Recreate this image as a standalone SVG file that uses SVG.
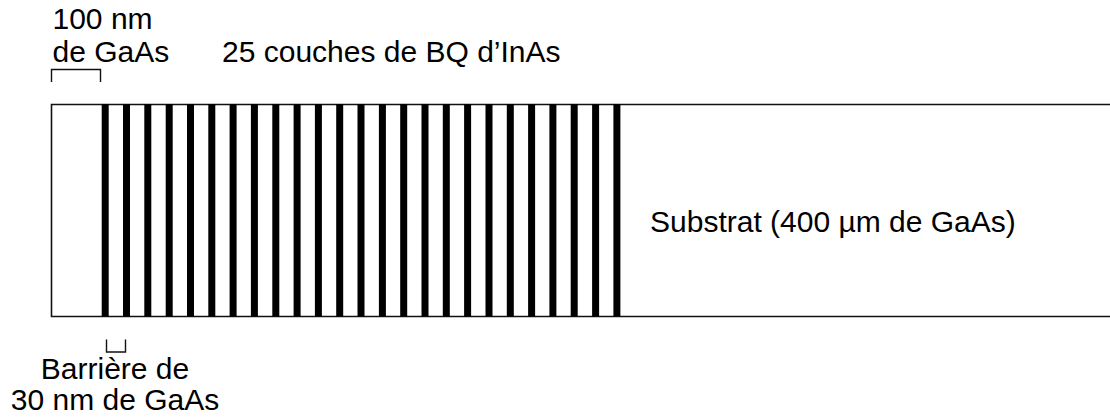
<svg xmlns="http://www.w3.org/2000/svg" width="1110" height="417" viewBox="0 0 1110 417">
  <style>
    text { font-family: "Liberation Sans", Arial, sans-serif; font-size: 30px; fill: #000; }
    .edge { fill: none; stroke: #111; stroke-width: 1.6; }
    .bracket { fill: none; stroke: #111; stroke-width: 1.4; }
    .qd { fill: #000; }
  </style>
  <rect width="1110" height="417" fill="#fff"/>

  <!-- Sample: 100 nm cap, 25 InAs QD layers, substrate running off to the right -->
  <g id="sample">
    <path class="edge" d="M1110 104.5 H51.5 V316.5 H1110"/>
    <g id="qd-layers">
      <rect class="qd" x="101.7" y="104" width="7" height="212.5"/>
      <rect class="qd" x="123.0" y="104" width="7" height="212.5"/>
      <rect class="qd" x="144.3" y="104" width="7" height="212.5"/>
      <rect class="qd" x="165.7" y="104" width="7" height="212.5"/>
      <rect class="qd" x="187.0" y="104" width="7" height="212.5"/>
      <rect class="qd" x="208.3" y="104" width="7" height="212.5"/>
      <rect class="qd" x="229.6" y="104" width="7" height="212.5"/>
      <rect class="qd" x="250.9" y="104" width="7" height="212.5"/>
      <rect class="qd" x="272.3" y="104" width="7" height="212.5"/>
      <rect class="qd" x="293.6" y="104" width="7" height="212.5"/>
      <rect class="qd" x="314.9" y="104" width="7" height="212.5"/>
      <rect class="qd" x="336.2" y="104" width="7" height="212.5"/>
      <rect class="qd" x="357.5" y="104" width="7" height="212.5"/>
      <rect class="qd" x="378.9" y="104" width="7" height="212.5"/>
      <rect class="qd" x="400.2" y="104" width="7" height="212.5"/>
      <rect class="qd" x="421.5" y="104" width="7" height="212.5"/>
      <rect class="qd" x="442.8" y="104" width="7" height="212.5"/>
      <rect class="qd" x="464.1" y="104" width="7" height="212.5"/>
      <rect class="qd" x="485.5" y="104" width="7" height="212.5"/>
      <rect class="qd" x="506.8" y="104" width="7" height="212.5"/>
      <rect class="qd" x="528.1" y="104" width="7" height="212.5"/>
      <rect class="qd" x="549.4" y="104" width="7" height="212.5"/>
      <rect class="qd" x="570.7" y="104" width="7" height="212.5"/>
      <rect class="qd" x="592.1" y="104" width="7" height="212.5"/>
      <rect class="qd" x="613.4" y="104" width="7" height="212.5"/>
    </g>
    <text x="650" y="231.5">Substrat (400 µm de GaAs)</text>
  </g>

  <g id="cap-label">
    <path class="bracket" d="M51.5 82 V69.5 H100.5 V82"/>
    <text x="52.5" y="28.5">100 nm</text>
    <text x="52.5" y="61.5">de GaAs</text>
  </g>

  <g id="qd-label">
    <text x="222" y="61.5">25 couches de BQ d’InAs</text>
  </g>

  <g id="barrier-label">
    <path class="bracket" d="M106.5 339.5 V352 H125.5 V339.5"/>
    <text x="115" y="378.5" text-anchor="middle">Barrière de</text>
    <text x="115" y="409.5" text-anchor="middle">30 nm de GaAs</text>
  </g>
</svg>
